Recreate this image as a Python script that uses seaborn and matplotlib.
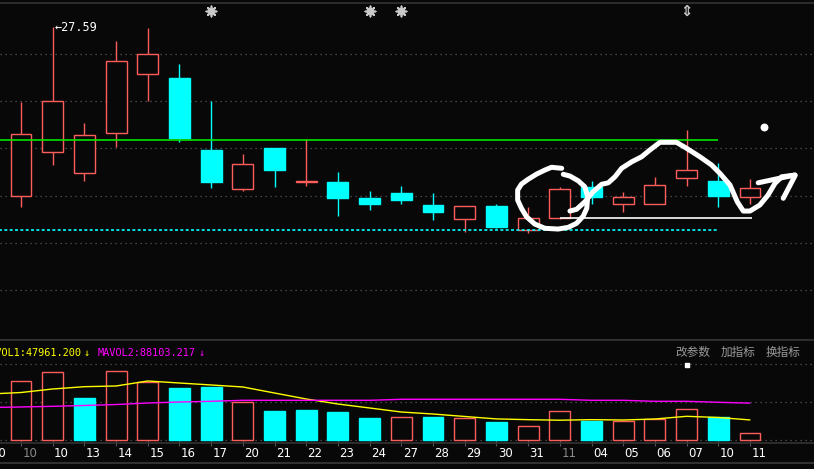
import matplotlib
matplotlib.use("Agg")
import matplotlib.pyplot as plt
import matplotlib.transforms as mtransforms
import seaborn as sns
import pandas as pd
import numpy as np

# ---- data ----
# day labels on the bottom axis (index 0 is the half hidden day at the left edge)
dates = ["30", "10", "10", "13", "14", "15", "16", "17", "20", "21", "22", "23", "24",
         "27", "28", "29", "30", "31", "11", "04", "05", "06", "07", "10", "11"]
month_marks = [1, 18]  # grey labels = month number

opens = [20.85, 22.61, 21.77, 23.35, 25.73, 25.56, 22.68, 21.13, 22.76, 21.42, 21.40, 20.76,
         20.96, 20.48, 19.93, 20.44, 19.49, 19.95, 21.20, 20.51, 20.51, 21.55, 21.44, 20.81]
closes = [23.31, 24.64, 23.28, 26.23, 26.52, 23.17, 21.40, 22.11, 21.88, 21.46, 20.77, 20.53,
          20.69, 20.21, 20.44, 19.61, 19.96, 21.12, 20.81, 20.82, 21.28, 21.88, 20.85, 21.16]
highs = [24.60, 27.59, 23.76, 27.04, 27.55, 26.12, 24.64, 22.52, 22.78, 23.12, 21.80, 21.04,
         21.24, 20.96, 20.44, 20.52, 20.40, 21.20, 21.44, 21.00, 21.60, 23.48, 22.16, 21.52]
lows = [20.41, 22.09, 21.45, 22.81, 24.64, 23.01, 21.17, 21.04, 21.21, 21.25, 20.05, 20.29,
        20.53, 19.89, 19.41, 19.55, 19.37, 19.92, 20.53, 20.21, 20.51, 21.25, 20.41, 20.53]

volumes = [140300, 161800, 100400, 164200, 139300, 124300, 126700, 90100, 69300, 71700, 66900, 52600,
           54300, 55000, 51900, 43000, 32700, 69300, 46100, 45400, 49500, 73400, 54300, 17200]
mavol1 = [109900, 113500, 121900, 127400, 129100, 141000, 136200, 131500, 126700, 112300, 98000, 86000,
          76500, 66900, 62100, 56200, 50400, 48600, 47300, 48600, 47800, 50200, 56600, 53800, 47961]
mavol2 = [77700, 78900, 80500, 82500, 84800, 88400, 90800, 92500, 94900, 94900, 94900, 94900,
          94900, 97300, 97300, 97300, 97300, 97300, 97300, 94900, 94900, 92500, 92500, 90100, 88103]

# horizontal reference lines drawn on the price panel
green_level, green_end = 23.07, 23
cyan_level, cyan_end = 19.48, 23
white_level, white_start, white_end = 19.95, 18, 24.06
price_grid = [26.52, 24.64, 22.76, 20.84, 18.95, 17.07]
vol_grid = [0, 90820, 181640]

# signal marks along the top
star_days = [7, 12, 13]
arrow_days = [22]

# freehand white annotation (day index, price)
circle_x = [18.06, 17.74, 17.53, 17.27, 17.00, 16.79, 16.67, 16.67, 16.79, 16.95, 17.21, 17.53,
            17.95, 18.27, 18.53, 18.74, 18.85, 18.88, 18.79, 18.58, 18.32, 18.11]
circle_y = [21.95, 21.99, 21.88, 21.72, 21.51, 21.32, 21.08, 20.68, 20.35, 20.01, 19.72, 19.55,
            19.52, 19.59, 19.75, 20.04, 20.35, 20.81, 21.21, 21.45, 21.64, 21.71]
wave_x = [18.32, 18.53, 18.79, 19.05, 19.32, 19.53, 19.74, 19.95, 20.27, 20.58, 20.84, 21.16,
          21.68, 22.00, 22.42, 22.79, 23.05, 23.37, 23.60, 23.79, 24.00, 24.31, 24.57, 24.79,
          25.00, 25.42]
wave_y = [20.24, 20.31, 20.61, 21.01, 21.31, 21.37, 21.61, 21.95, 22.21, 22.41, 22.68, 22.99,
          22.99, 22.75, 22.41, 22.08, 21.75, 21.28, 20.61, 20.24, 20.24, 20.48, 20.88, 21.35,
          21.61, 21.68]
arrow_x = [24.26, 25.00, 25.42]
arrow_y = [21.37, 21.57, 21.68]
barb_x = [25.42, 25.05]
barb_y = [21.65, 20.75]
dot_x, dot_y = [24.45], [23.61]

# ---- style ----
BG = "#080808"
RED = "#ff5c5c"
CYAN = "#00ffff"
sns.set_theme(style="dark", rc={"axes.facecolor": BG, "figure.facecolor": BG})
plt.rcParams['font.family'] = ['DejaVu Sans', 'Noto Sans CJK SC']

W, H = 814, 469
fig = plt.figure(figsize=(W / 100, H / 100), dpi=100)
ax = fig.add_axes([0, (H - 340) / H, 1, (340 - 3) / H])
axv = fig.add_axes([0, (H - 443) / H, 1, (443 - 340) / H], sharex=ax)

days = np.arange(1, len(opens) + 1)
o, c, hi, lo = (np.array(v) for v in (opens, closes, highs, lows))
up = c >= o
body_w = 0.66

for a in (ax, axv):
    a.set_facecolor(BG)
    a.grid(False)
    for s in ("left", "right"):
        a.spines[s].set_visible(False)
    for s in ("top", "bottom"):
        a.spines[s].set_color("#333333")
        a.spines[s].set_linewidth(1.2)
    a.set_yticks([])

ax.set_ylim(15.082, 28.562)
ax.tick_params(axis="x", bottom=False, labelbottom=False)

# grid
for g in price_grid:
    ax.axhline(g, color="#5a5a5a", lw=0.9, ls=(0, (1, 3)), zorder=1)
for g in vol_grid:
    axv.axhline(g, color="#5a5a5a", lw=0.9, ls=(0, (1, 3)), zorder=1)

# candles
wick_cols = [RED if u else CYAN for u in up]
ax.vlines(days, lo, hi, colors=wick_cols, lw=1.0, zorder=2)
ax.bar(days, np.maximum(np.abs(c - o), 0.03), bottom=np.minimum(o, c), width=body_w,
       color=[BG if u else CYAN for u in up], edgecolor=wick_cols, linewidth=1.0, zorder=3)

# reference lines
ax.hlines(green_level, 0, green_end, color="#00e600", lw=1.2, zorder=4)
ax.hlines(cyan_level, 0, cyan_end, color=CYAN, lw=1.2, ls=(0, (1.8, 1.4)), zorder=4)
ax.hlines(white_level, white_start, white_end, color="white", lw=1.2, zorder=4)

# max price label
imax = int(np.argmax(hi))
ax.text(days[imax] + 0.06, hi[imax], f"\u2190{hi[imax]:.2f}", color="white", fontsize=8.5,
        family="DejaVu Sans Mono", ha="left", va="center")

# top markers
top = mtransforms.blended_transform_factory(ax.transData, ax.transAxes)
ax.scatter(star_days, [0.976] * len(star_days), marker=(8, 2, 0), s=55, color="#c8c8c8",
           lw=1.2, transform=top, clip_on=False, zorder=5)
ax.scatter(star_days, [0.976] * len(star_days), marker="s", s=14, color="#c8c8c8",
           transform=top, clip_on=False, zorder=5)
for d in arrow_days:
    ax.text(d, 0.976, "\u21d5", color="#c8c8c8", fontsize=10.5, ha="center", va="center",
            transform=top, fontweight="bold")

# freehand scribble
pen = dict(color="white", lw=3.6, estimator=None, sort=False, ax=ax,
           solid_capstyle="round", solid_joinstyle="round", zorder=6, legend=False)
sns.lineplot(x=circle_x, y=circle_y, **pen)
sns.lineplot(x=wave_x, y=wave_y, **pen)
sns.lineplot(x=arrow_x, y=arrow_y, **pen)
sns.lineplot(x=barb_x, y=barb_y, **pen)
ax.scatter(dot_x, dot_y, s=22, color="white", zorder=6)

# ---- volume panel ----
v = np.array(volumes)
prev = np.concatenate([[-np.inf], c[:-1]])
vup = c >= prev
vcols = [RED if u else CYAN for u in vup]
axv.bar(days, v, width=body_w, color=[BG if u else CYAN for u in vup], edgecolor=vcols,
        linewidth=1.0, zorder=3)
axv.set_ylim(-7170, 239000)

ma_days = np.arange(0, len(mavol1))
vol_df = pd.DataFrame({"day": ma_days, "MAVOL1": mavol1, "MAVOL2": mavol2})
sns.lineplot(data=vol_df, x="day", y="MAVOL1", color="#ffff00", lw=1.0, ax=axv, zorder=4)
sns.lineplot(data=vol_df, x="day", y="MAVOL2", color="#ff00ff", lw=1.0, ax=axv, zorder=4)
axv.set_xlabel("")
axv.set_ylabel("")
ax.set_xlabel("")
ax.set_ylabel("")
axv.set_yticks([])

axv.set_xticks(ma_days)
axv.tick_params(axis="x", direction="inout", length=4, color="#555555", width=0.8,
                labelbottom=False, bottom=True)
bot = mtransforms.blended_transform_factory(axv.transData, axv.transAxes)
for i, d in enumerate(dates):
    axv.text(i + 0.28, -0.1, d, color="#8a8a8a" if i in month_marks else "white",
             fontsize=8.5, ha="center", va="center", transform=bot, clip_on=False)

# set the day range last so the ticks do not widen it
ax.set_xlim(0.3375, 26.02)

# indicator header
hy = 1 - 352.5 / H
mono = dict(family="DejaVu Sans Mono", fontsize=7.4, va="center")
fig.text(-16 / W, hy, "MAVOL1:47961.200", color="#ffff00", **mono)
fig.text(84 / W, hy, "\u2193", color="#ffff00", **mono)
fig.text(98 / W, hy, "MAVOL2:88103.217", color="#ff00ff", **mono)
fig.text(199 / W, hy, "\u2193", color="#ff00ff", **mono)
for xp, lab in [(693, "改参数"), (738, "加指标"), (783, "换指标")]:
    fig.text(xp / W, hy, lab, color="#9a9a9a", fontsize=8.4, ha="center", va="center",
             family=["Noto Sans CJK SC", "DejaVu Sans"])
axv.scatter(arrow_days, [0.76] * len(arrow_days), marker="s", s=12, color="white",
            transform=mtransforms.blended_transform_factory(axv.transData, axv.transAxes),
            clip_on=False, zorder=5)

# separator under the date row
fig.add_artist(plt.Line2D([0, 1], [1 - 462.5 / H] * 2, color="#3a3a3a", lw=1.2))

fig.savefig("out.png", dpi=100, facecolor=BG)
plt.close(fig)
